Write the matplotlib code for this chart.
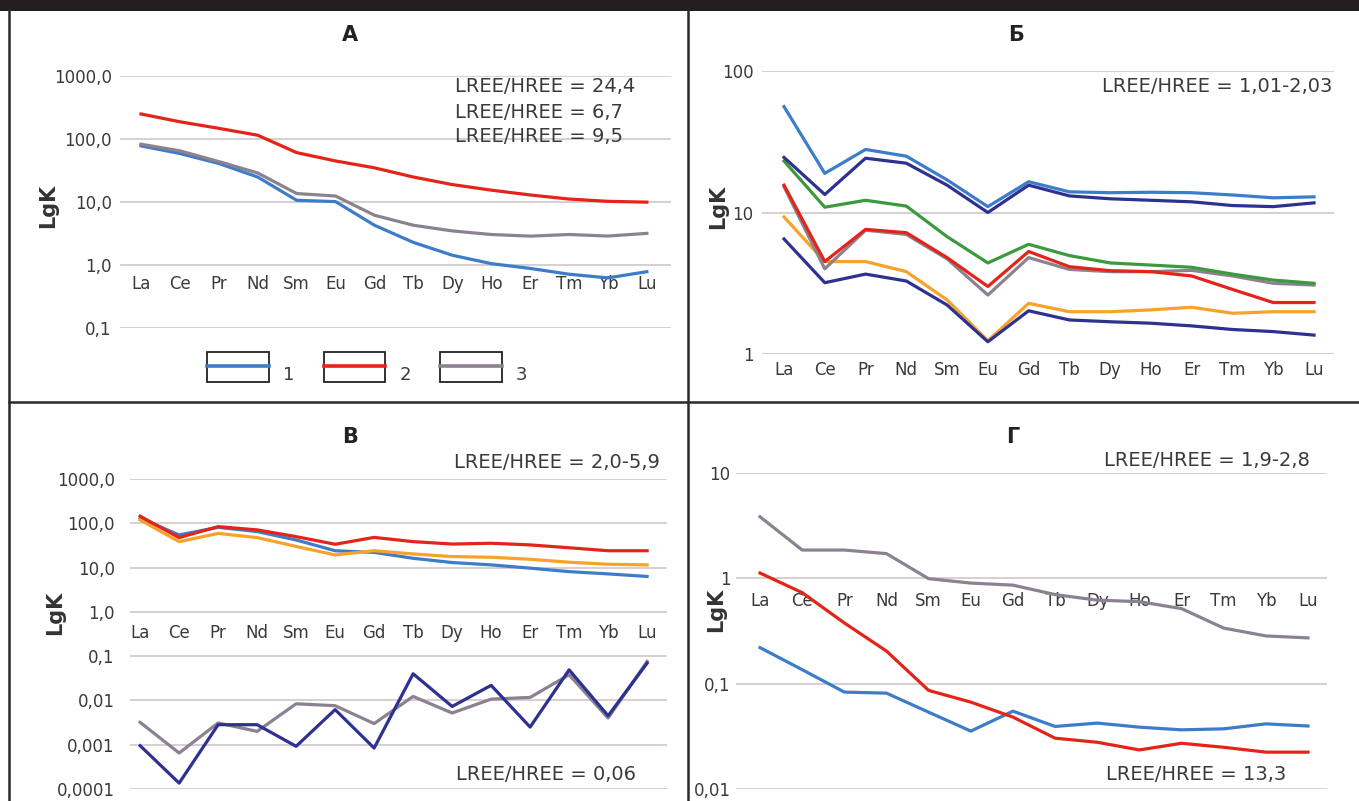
import matplotlib

matplotlib.use("Agg")
import matplotlib.pyplot as plt
from matplotlib.lines import Line2D
from matplotlib.patches import Rectangle

W, H = 1359, 801
FONT = ["Liberation Sans Narrow", "DejaVu Sans"]
plt.rcParams["font.family"] = FONT

REE = ["La", "Ce", "Pr", "Nd", "Sm", "Eu", "Gd", "Tb", "Dy", "Ho", "Er", "Tm", "Yb", "Lu"]

BLUE = "#3d7cc9"
RED = "#e42419"
GREY = "#8c8190"
NAVY = "#2d3190"
GREEN = "#3b9a3c"
ORANGE = "#f7a22a"
GRID = "#d2cbcb"
TXT = "#3a3a3a"

# panel A
a_ser1 = [78, 59, 41, 25, 10.7, 10.2, 4.3, 2.3, 1.44, 1.06, 0.89, 0.72, 0.63, 0.79]
a_ser2 = [250, 188, 148, 115, 61, 45, 35, 25, 19, 15.5, 13, 11.2, 10.3, 10]
a_ser3 = [83, 65, 44, 29, 13.7, 12.5, 6.2, 4.3, 3.5, 3.07, 2.89, 3.07, 2.9, 3.2]
a_ticks = [0.1, 1, 10, 100, 1000]
a_labels = ["0,1", "1,0", "10,0", "100,0", "1000,0"]
a_ratios = ["LREE/HREE = 24,4", "LREE/HREE = 6,7", "LREE/HREE = 9,5"]
a_legend = ["1", "2", "3"]

# panel B (Б)
b_blue = [56, 18.9, 27.9, 25, 17, 11, 16.5, 14, 13.8, 13.9, 13.8, 13.3, 12.7, 12.9]
b_navy1 = [24.5, 13.4, 24.2, 22.3, 15.6, 10, 15.6, 13.1, 12.5, 12.2, 11.9, 11.2, 11, 11.7]
b_green = [23.1, 10.9, 12.2, 11.1, 6.75, 4.4, 5.96, 4.96, 4.4, 4.25, 4.1, 3.67, 3.33, 3.16]
b_red = [15.6, 4.5, 7.6, 7.2, 4.8, 3.0, 5.3, 4.14, 3.88, 3.82, 3.56, 2.86, 2.31, 2.31]
b_grey = [15.2, 4.0, 7.5, 7.0, 4.7, 2.61, 4.8, 3.96, 3.82, 3.82, 3.9, 3.56, 3.16, 3.07]
b_orange = [9.3, 4.5, 4.5, 3.82, 2.41, 1.24, 2.28, 1.99, 1.99, 2.05, 2.14, 1.94, 1.99, 1.99]
b_navy2 = [6.5, 3.19, 3.67, 3.28, 2.22, 1.22, 2.02, 1.74, 1.69, 1.65, 1.58, 1.49, 1.44, 1.36]
b_ticks = [1, 10, 100]
b_labels = ["1", "10", "100"]

# panel V (В)
v_red = [145, 47.5, 84, 71, 50, 33.6, 48, 38.5, 34, 35.4, 32.5, 28, 24, 24]
v_blue = [130, 54.6, 81, 65, 42, 24, 22, 16.2, 13, 11.5, 9.7, 8.1, 7.2, 6.3]
v_orange = [119, 38.5, 59, 47.5, 30, 19.3, 24, 20.3, 17.7, 17.1, 15.4, 13.2, 11.9, 11.5]
v_navy = [0.00095, 0.000136, 0.00283, 0.00283, 0.00092, 0.0062, 0.00084, 0.040,
          0.0073, 0.0219, 0.0025, 0.049, 0.0045, 0.0695]
v_grey = [0.0032, 0.00065, 0.0031, 0.0020, 0.0084, 0.0076, 0.0030, 0.0123,
          0.0052, 0.0107, 0.0117, 0.038, 0.0040, 0.076]
v_ticks = [0.0001, 0.001, 0.01, 0.1, 1, 10, 100, 1000]
v_labels = ["0,0001", "0,001", "0,01", "0,1", "1,0", "10,0", "100,0", "1000,0"]

# panel G (Г)
g_grey = [3.82, 1.85, 1.85, 1.71, 0.99, 0.90, 0.86, 0.70, 0.62, 0.60, 0.515, 0.337, 0.284, 0.272]
g_red = [1.12, 0.73, 0.377, 0.204, 0.0865, 0.067, 0.0483, 0.0305, 0.0279, 0.0236, 0.0273, 0.025, 0.0225, 0.0225]
g_blue = [0.22, 0.136, 0.0834, 0.0815, 0.0538, 0.0356, 0.055, 0.0394, 0.0424, 0.0388, 0.0366, 0.0374, 0.0417, 0.0398]
g_ticks = [0.01, 0.1, 1, 10]
g_labels = ["0,01", "0,1", "1", "10"]


def px_axes(fig, x0, y0, x1, y1):
    return fig.add_axes([x0 / W, 1 - y1 / H, (x1 - x0) / W, (y1 - y0) / H])


def setup(ax, ylim, xlim, ticks, labels, ypad, xpad, cross=None):
    ax.set_yscale("log")
    ax.set_ylim(*ylim)
    ax.set_xlim(*xlim)
    ax.set_yticks(ticks)
    ax.set_yticklabels(labels)
    ax.minorticks_off()
    ax.set_xticks(range(len(REE)))
    ax.set_xticklabels(REE)
    ax.tick_params(axis="y", length=0, pad=ypad, labelsize=12, labelcolor=TXT)
    ax.tick_params(axis="x", length=0, pad=xpad, labelsize=12, labelcolor=TXT)
    ax.yaxis.grid(True, color=GRID, lw=1.3)
    ax.set_axisbelow(True)
    for s in ax.spines.values():
        s.set_visible(False)
    if cross is not None:
        ax.spines["bottom"].set_position(("data", cross))
    ax.patch.set_alpha(0)


fig = plt.figure(figsize=(W / 100, H / 100), dpi=100)

# frame
fig.add_artist(Rectangle((0, 1 - 10.5 / H), 1, 10.5 / H, transform=fig.transFigure,
                         color="#231f20", lw=0))
for x in [8.5, 687.5]:
    fig.add_artist(Line2D([x / W, x / W], [0, 1 - 10 / H], transform=fig.transFigure,
                          color="#2a2a2a", lw=1.8))
fig.add_artist(Line2D([8.5 / W, 1], [1 - 402.3 / H, 1 - 402.3 / H], transform=fig.transFigure,
                      color="#2a2a2a", lw=1.8))

lw = 2.3
x = range(len(REE))

# А
ax = px_axes(fig, 120, 76, 671, 328.3)
setup(ax, (0.1, 1000), (-0.54, 13.62), a_ticks, a_labels, 6, 7, cross=1)
ax.plot(x, a_ser1, color=BLUE, lw=lw)
ax.plot(x, a_ser2, color=RED, lw=lw)
ax.plot(x, a_ser3, color=GREY, lw=lw)
fig.text(350 / W, 1 - 35 / H, "А", ha="center", va="center", fontsize=15, fontweight="bold", color="#222")
fig.text(48 / W, 1 - 206 / H, "LgK", ha="center", va="center", rotation=90, fontsize=15,
         fontweight="bold", color="#333")
for i, t in enumerate(a_ratios):
    fig.text(455 / W, 1 - (87 + 25 * i) / H, t, ha="left", va="center", fontsize=14, color=TXT)
for i, (lab, c) in enumerate(zip(a_legend, [BLUE, RED, GREY])):
    bx0 = 207 + 116.7 * i
    fig.add_artist(Rectangle((bx0 / W, 1 - 382 / H), 61.5 / W, 30 / H, transform=fig.transFigure,
                             fill=False, ec="#222", lw=1.3))
    fig.add_artist(Line2D([bx0 / W, (bx0 + 61.5) / W], [1 - 366 / H, 1 - 366 / H],
                          transform=fig.transFigure, color=c, lw=2.6))
    fig.text((bx0 + 81.5) / W, 1 - 375 / H, lab, ha="center", va="center", fontsize=13, color=TXT)

# Б
ax = px_axes(fig, 762, 71, 1334, 354)
setup(ax, (1, 100), (-0.54, 13.49), b_ticks, b_labels, 6, 5)
for s, c in [(b_orange, ORANGE), (b_navy2, NAVY), (b_grey, GREY), (b_red, RED),
             (b_green, GREEN), (b_navy1, NAVY), (b_blue, BLUE)]:
    ax.plot(x, s, color=c, lw=lw)
fig.text(1016 / W, 1 - 35 / H, "Б", ha="center", va="center", fontsize=15, fontweight="bold", color="#222")
fig.text(718 / W, 1 - 207 / H, "LgK", ha="center", va="center", rotation=90, fontsize=15,
         fontweight="bold", color="#333")
fig.text(1332 / W, 1 - 87 / H, "LREE/HREE = 1,01-2,03", ha="right", va="center", fontsize=14, color=TXT)

# В
ax = px_axes(fig, 130, 479, 667, 789)
setup(ax, (0.0001, 1000), (-0.26, 13.51), v_ticks, v_labels, 11, 9, cross=1)
ax.plot(x, v_grey, color=GREY, lw=lw)
ax.plot(x, v_navy, color=NAVY, lw=lw)
ax.plot(x, v_blue, color=BLUE, lw=lw)
ax.plot(x, v_orange, color=ORANGE, lw=lw)
ax.plot(x, v_red, color=RED, lw=lw)
fig.text(350 / W, 1 - 437 / H, "В", ha="center", va="center", fontsize=15, fontweight="bold", color="#222")
fig.text(55 / W, 1 - 613 / H, "LgK", ha="center", va="center", rotation=90, fontsize=15,
         fontweight="bold", color="#333")
fig.text(660 / W, 1 - 462 / H, "LREE/HREE = 2,0-5,9", ha="right", va="center", fontsize=14, color=TXT)
fig.text(636 / W, 1 - 775 / H, "LREE/HREE = 0,06", ha="right", va="center", fontsize=14, color=TXT)

# Г
ax = px_axes(fig, 736, 472.7, 1327, 789.3)
setup(ax, (0.01, 10), (-0.57, 13.45), g_ticks, g_labels, 4, 10, cross=1)
ax.plot(x, g_grey, color=GREY, lw=lw)
ax.plot(x, g_blue, color=BLUE, lw=lw)
ax.plot(x, g_red, color=RED, lw=lw)
fig.text(1013 / W, 1 - 437 / H, "Г", ha="center", va="center", fontsize=15, fontweight="bold", color="#222")
fig.text(716 / W, 1 - 610 / H, "LgK", ha="center", va="center", rotation=90, fontsize=15,
         fontweight="bold", color="#333")
fig.text(1310 / W, 1 - 461 / H, "LREE/HREE = 1,9-2,8", ha="right", va="center", fontsize=14, color=TXT)
fig.text(1286 / W, 1 - 775 / H, "LREE/HREE = 13,3", ha="right", va="center", fontsize=14, color=TXT)

fig.savefig("out.png", dpi=100)
